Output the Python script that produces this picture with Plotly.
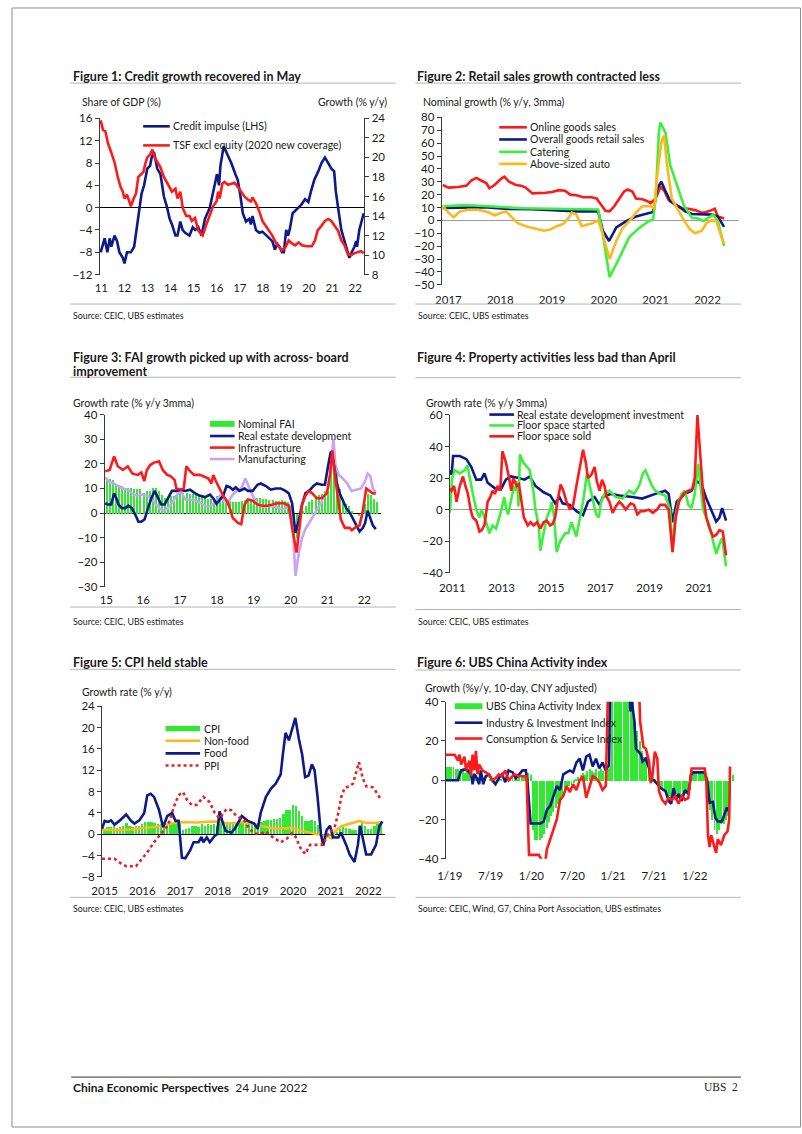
import plotly.graph_objects as go

W, H = 802, 1134
FONT = "Lato"
NAVY = "#0c1a8a"
RED = "#ff1a1a"
GREEN = "#3cf03c"
BARGREEN = "#33e833"
ORANGE = "#ffb81c"
LAV = "#c9a3f5"
GRAYLINE = "#b4b4b4"

# ---------------- Figure 1 data (year, value) ----------------
f1_credit_impulse = [(2010.97,-8),(2011.14,-5.5),(2011.26,-8),(2011.36,-5.5),(2011.43,-7),(2011.57,-5),(2011.68,-6),(2011.78,-8),(2011.93,-9),(2012.00,-10),(2012.11,-8),(2012.28,-8),(2012.42,-7),(2012.52,-4),(2012.64,0),(2012.74,2.5),(2012.85,4),(2012.99,7),(2013.11,7.5),(2013.18,9),(2013.28,10),(2013.42,7),(2013.56,6),(2013.71,2),(2013.85,0),(2013.96,-2),(2014.06,-3),(2014.21,-5),(2014.30,-5),(2014.42,-2.5),(2014.52,-4),(2014.63,-4.5),(2014.82,-5),(2014.96,-3.5),(2015.06,-4),(2015.20,-3.5),(2015.34,-5),(2015.49,-2),(2015.70,0),(2015.84,3),(2016.01,6),(2016.10,4),(2016.16,7.5),(2016.30,11),(2016.41,10),(2016.63,8),(2016.81,6),(2016.91,5),(2017.03,2),(2017.13,-1),(2017.27,-2.5),(2017.41,-2),(2017.48,-3),(2017.55,-1.5),(2017.70,-4),(2017.84,-4.5),(2017.98,-4.3),(2018.15,-5),(2018.26,-5.5),(2018.41,-6),(2018.52,-7.5),(2018.62,-6.5),(2018.72,-7),(2018.83,-8),(2018.91,-8),(2019.01,-4),(2019.09,-5),(2019.16,-4),(2019.29,-1),(2019.40,-0.5),(2019.55,0),(2019.66,0.5),(2019.83,1.5),(2019.97,1),(2020.09,3),(2020.23,5),(2020.40,6.5),(2020.54,8),(2020.69,9),(2020.83,8),(2020.97,7),(2021.09,6.5),(2021.16,3),(2021.26,0),(2021.40,-4),(2021.54,-6),(2021.66,-8),(2021.75,-9),(2021.85,-8),(2021.97,-7),(2022.04,-6),(2022.08,-7),(2022.18,-4),(2022.25,-3),(2022.37,-1)]
f1_tsf = [(2010.97,23.8),(2011.07,22.8),(2011.17,22.7),(2011.28,21.5),(2011.43,20.5),(2011.57,19.5),(2011.71,18),(2011.83,17),(2011.93,16.5),(2012.00,15.8),(2012.11,16.2),(2012.21,15.5),(2012.28,15),(2012.40,15.8),(2012.50,16.3),(2012.60,18),(2012.71,18.3),(2012.82,18.5),(2012.92,19.5),(2012.99,20),(2013.11,20.3),(2013.21,20.8),(2013.31,20),(2013.42,19.5),(2013.56,19),(2013.71,18),(2013.82,17.5),(2013.96,17),(2014.06,16.5),(2014.21,16.8),(2014.30,15.8),(2014.42,16.5),(2014.53,14.8),(2014.68,14),(2014.82,14),(2014.92,13.5),(2015.06,13.8),(2015.20,12.5),(2015.39,12),(2015.53,13),(2015.70,14),(2015.84,15),(2015.99,15.5),(2016.06,16.5),(2016.13,15.8),(2016.24,17.3),(2016.34,17.5),(2016.48,17.2),(2016.63,17.3),(2016.77,17.4),(2016.91,17),(2017.05,16.5),(2017.20,16),(2017.34,15.7),(2017.48,15.5),(2017.55,15.9),(2017.70,15.3),(2017.84,14.5),(2017.98,13.5),(2018.12,13),(2018.26,12.5),(2018.41,12),(2018.62,11),(2018.83,10.5),(2018.98,10.8),(2019.12,11.5),(2019.26,11.2),(2019.40,11),(2019.55,11.3),(2019.69,11),(2019.90,10.9),(2020.12,10.9),(2020.26,11.5),(2020.37,12.5),(2020.54,13),(2020.69,13.5),(2020.83,13.7),(2020.97,13.5),(2021.11,13),(2021.26,12.5),(2021.40,11.5),(2021.54,11),(2021.68,10.1),(2021.83,10),(2021.97,10.2),(2022.11,10.3),(2022.25,10.4),(2022.37,10.2)]
f1_years = list(range(2011, 2023))
f1_labels = [str(y)[2:] for y in f1_years]

# ---------------- Figure 2 data ----------------
f2_online = [(2016.89,27.5),(2017.00,25.5),(2017.19,26),(2017.35,27),(2017.44,31),(2017.54,33),(2017.63,31),(2017.73,29),(2017.79,25),(2017.89,27.5),(2018.02,32.5),(2018.08,34),(2018.17,30),(2018.30,27.5),(2018.40,27),(2018.49,25.5),(2018.62,21),(2018.74,21),(2018.87,21.5),(2019.00,22),(2019.13,23.5),(2019.25,23),(2019.35,20),(2019.47,19.5),(2019.60,18),(2019.76,18),(2019.86,17),(2019.95,12),(2020.03,7.5),(2020.11,7),(2020.20,11),(2020.30,17),(2020.39,22.5),(2020.46,24),(2020.55,22.5),(2020.62,17),(2020.74,16.5),(2020.84,15),(2020.90,13.5),(2021.00,17),(2021.09,26),(2021.16,23.5),(2021.25,16),(2021.38,12),(2021.51,9.5),(2021.63,9),(2021.76,8),(2021.89,6),(2021.98,6.5),(2022.08,8),(2022.14,9),(2022.20,3),(2022.32,1.5)]
f2_overall = [(2016.89,9.6),(2017.30,10),(2017.70,10.2),(2018.08,9),(2018.60,8.8),(2019.03,8),(2019.47,7),(2019.86,7),(2019.89,7),(2019.98,-8),(2020.10,-16),(2020.24,-5.5),(2020.43,-0.5),(2020.62,3),(2020.81,5),(2020.95,6.5),(2021.03,25),(2021.11,30),(2021.19,22.5),(2021.28,15),(2021.44,11),(2021.57,7),(2021.70,5),(2021.89,4.5),(2022.08,4.5),(2022.20,3),(2022.32,-5)]
f2_catering = [(2016.89,11),(2017.32,12),(2017.76,11),(2018.40,9.5),(2019.03,9),(2019.86,9),(2019.89,8.5),(2019.98,-11),(2020.11,-44),(2020.30,-29),(2020.49,-13),(2020.68,-6),(2020.87,-0.5),(2020.95,0.5),(2021.00,17),(2021.06,68),(2021.09,76),(2021.19,68),(2021.28,43),(2021.41,27.5),(2021.54,12),(2021.70,2),(2021.82,1.5),(2021.92,-0.5),(2022.04,3),(2022.11,4.5),(2022.20,-0.5),(2022.32,-20)]
f2_auto = [(2016.89,11),(2017.00,6),(2017.10,2.5),(2017.22,7),(2017.38,8.3),(2017.57,8.3),(2017.76,6.5),(2017.89,4),(2018.02,6),(2018.11,7),(2018.21,3),(2018.33,-2),(2018.49,-4.5),(2018.65,-6),(2018.84,-8),(2018.97,-7),(2019.09,-4.5),(2019.22,-2.5),(2019.32,2),(2019.38,6),(2019.47,4.5),(2019.57,-4.5),(2019.66,-3.5),(2019.79,-2),(2019.89,0),(2019.98,-11),(2020.11,-30),(2020.24,-16),(2020.36,-6),(2020.49,-0.5),(2020.62,6),(2020.74,11),(2020.90,11),(2020.97,9.5),(2021.03,35),(2021.11,61),(2021.16,66),(2021.22,43),(2021.31,17),(2021.41,9.5),(2021.54,0.5),(2021.66,-7),(2021.76,-10),(2021.89,-8),(2021.98,-2),(2022.08,0),(2022.17,-0.5),(2022.27,-13),(2022.32,-18)]
f2_years = list(range(2017, 2023))

# ---------------- Figure 3 data ----------------
f3_fai_monthly = [14,14,13.5,12,11.5,11,10.5,10.5,10.5,10,10,10,
                  8.5,9,9,10.5,10.5,9,7.5,6.5,6.5,7,7,8,
                  8.5,8.5,8.5,8,8,7.5,7,7,6.5,6,6,6.5,
                  7,7,6.5,5,5,4.5,4.5,4.5,5,5.5,6,6,
                  6,6.5,6.5,6,6,5.5,5.5,5,5,5.5,5,4.5,
                  3,-12,-10,-3,1,3,4.5,5.5,7,7.5,8,9,
                  10,22,25,18,10,6,4,3,1,0,-1,-2,
                  4,8,7.5,6,4.5]
f3_fai_start_year = 2015
f3_real_estate = [(2014.97,4),(2015.04,3.5),(2015.13,3.5),(2015.21,8),(2015.27,6),(2015.33,3.5),(2015.42,2),(2015.51,2),(2015.60,3),(2015.69,2),(2015.78,-0.5),(2015.87,-3.5),(2015.95,-3.5),(2016.04,-2.5),(2016.13,2),(2016.22,6),(2016.31,9),(2016.40,6),(2016.49,3.5),(2016.58,3.5),(2016.67,6),(2016.78,9),(2016.90,9),(2017.02,9.5),(2017.14,9),(2017.27,9.5),(2017.41,8),(2017.54,7),(2017.68,6.5),(2017.81,7.5),(2017.90,6),(2017.99,3.7),(2018.08,5.5),(2018.17,7),(2018.26,11),(2018.35,10.5),(2018.43,9.5),(2018.51,10.5),(2018.61,9),(2018.75,10),(2018.84,9),(2018.97,9),(2019.10,11.5),(2019.19,12),(2019.33,11),(2019.46,9.5),(2019.59,10),(2019.73,10),(2019.86,9),(2019.95,8),(2020.04,4),(2020.13,-8),(2020.22,-3),(2020.31,3.5),(2020.40,8),(2020.53,9.5),(2020.62,11),(2020.71,12),(2020.84,11.5),(2020.93,11.5),(2021.02,19.5),(2021.09,25),(2021.16,21),(2021.24,13),(2021.33,8),(2021.42,5),(2021.51,2),(2021.63,-0.5),(2021.74,-3.5),(2021.87,-7.5),(2021.96,-6),(2022.02,-4),(2022.09,1),(2022.16,-2),(2022.23,-5),(2022.31,-6.5)]
f3_infrastructure = [(2014.97,17),(2015.09,17.5),(2015.21,23),(2015.31,19),(2015.45,17.5),(2015.58,19),(2015.71,16),(2015.85,15.5),(2015.95,16.5),(2016.03,13),(2016.10,17.5),(2016.19,19.5),(2016.29,20.5),(2016.43,21),(2016.53,17.5),(2016.65,15.5),(2016.74,15),(2016.85,13.5),(2016.90,10),(2017.02,9.5),(2017.10,10),(2017.17,19),(2017.27,17),(2017.38,15.5),(2017.54,15.5),(2017.68,14.5),(2017.77,14),(2017.85,12),(2017.90,15.5),(2017.97,13),(2018.06,10),(2018.17,7),(2018.27,5),(2018.35,2),(2018.43,-2),(2018.57,-4),(2018.66,-4.5),(2018.75,3.5),(2018.84,5.5),(2018.97,5),(2019.10,3.5),(2019.24,3),(2019.37,3),(2019.50,3.5),(2019.64,4),(2019.82,4),(2019.95,3),(2020.04,-6),(2020.16,-16),(2020.24,-6),(2020.31,3.5),(2020.40,7),(2020.49,9),(2020.59,8),(2020.71,6),(2020.84,6),(2020.98,8),(2021.07,15.5),(2021.13,25.5),(2021.20,15.5),(2021.29,5),(2021.36,-2.5),(2021.47,-6),(2021.60,-6),(2021.66,-7),(2021.78,-5.5),(2021.87,-5),(2021.96,1),(2022.05,10),(2022.14,9),(2022.23,8),(2022.31,8)]
f3_manufacturing = [(2014.97,14.5),(2015.09,12.5),(2015.21,12),(2015.31,11),(2015.45,10),(2015.58,9.5),(2015.71,8),(2015.85,7),(2015.98,7.5),(2016.12,7),(2016.22,6),(2016.34,3.5),(2016.47,1.5),(2016.56,1),(2016.67,2),(2016.78,4),(2016.92,7.5),(2017.02,9),(2017.14,5.5),(2017.27,5.5),(2017.45,5),(2017.63,3.5),(2017.72,2.5),(2017.85,3),(2017.99,5),(2018.08,7),(2018.17,5),(2018.30,4.5),(2018.43,7.5),(2018.57,9.5),(2018.66,10),(2018.77,14),(2018.88,10),(2018.97,7),(2019.06,5),(2019.15,3),(2019.28,2.5),(2019.42,3),(2019.59,2.5),(2019.77,1.5),(2019.88,2),(2019.95,3.5),(2020.06,-6),(2020.13,-25.5),(2020.22,-16.5),(2020.31,-10),(2020.40,-6.5),(2020.53,-3),(2020.66,0),(2020.80,3.5),(2020.93,7),(2021.02,10),(2021.09,18),(2021.16,30),(2021.22,19),(2021.31,15.5),(2021.42,14),(2021.54,12),(2021.65,9),(2021.78,9.5),(2021.91,10),(2022.02,13),(2022.09,16),(2022.16,15),(2022.23,10),(2022.31,8.5)]
f3_years = list(range(2015, 2023))
f3_labels = [str(y)[2:] for y in f3_years]

# ---------------- Figure 4 data ----------------
f4_investment = [(2011.00,25),(2011.07,22),(2011.13,34),(2011.40,34),(2011.67,32),(2011.87,27),(2012.07,19),(2012.27,19),(2012.40,23),(2012.53,17),(2012.87,13),(2013.07,13),(2013.27,19),(2013.47,21),(2013.80,20),(2014.03,19),(2014.24,21),(2014.47,15),(2014.80,11),(2015.07,9),(2015.27,4),(2015.44,8),(2015.57,4),(2015.87,3),(2016.13,-1),(2016.40,-3.5),(2016.60,5),(2016.87,8),(2017.07,3),(2017.20,8),(2017.53,10),(2017.87,9),(2018.40,8),(2018.80,7),(2019.33,10),(2019.73,12),(2019.87,10),(2020.03,-8),(2020.20,5),(2020.53,10),(2020.80,12),(2021.00,18),(2021.13,17),(2021.27,13),(2021.40,7),(2021.60,0),(2021.80,-7.5),(2021.93,-5),(2022.04,1),(2022.20,-7)]
f4_started = [(2011.00,-2),(2011.09,20),(2011.20,25),(2011.40,23),(2011.60,25),(2011.71,28),(2011.93,10),(2012.07,0),(2012.20,-5),(2012.29,0),(2012.47,-8),(2012.60,-15),(2012.73,-10),(2012.87,-12),(2013.00,-5),(2013.09,0),(2013.20,8),(2013.29,0),(2013.36,-3),(2013.47,5),(2013.60,15),(2013.68,12),(2013.73,18),(2013.78,2),(2013.84,35),(2013.97,30),(2014.24,25),(2014.40,10),(2014.47,0),(2014.60,-10),(2014.67,-26),(2014.80,-15),(2014.93,-5),(2015.07,0),(2015.13,5),(2015.23,-5),(2015.33,-27),(2015.47,-20),(2015.67,-15),(2015.80,-15),(2015.93,-8),(2016.13,-17),(2016.27,-5),(2016.40,5),(2016.56,23),(2016.67,15),(2016.80,5),(2016.93,-3),(2017.04,-5),(2017.13,5),(2017.27,10),(2017.47,12),(2017.73,8),(2018.00,7),(2018.27,12),(2018.47,10),(2018.67,15),(2018.83,23),(2018.93,25),(2019.07,20),(2019.20,15),(2019.33,12),(2019.53,10),(2019.73,9),(2019.93,0),(2020.03,-27),(2020.13,-5),(2020.27,5),(2020.40,10),(2020.53,12),(2020.67,3),(2020.80,1),(2020.93,10),(2021.07,29),(2021.17,15),(2021.27,0),(2021.40,-5),(2021.53,-10),(2021.67,-20),(2021.80,-28),(2021.93,-22),(2022.04,-18),(2022.20,-36)]
f4_sold = [(2011.00,13.5),(2011.07,12),(2011.17,15),(2011.27,5),(2011.40,15),(2011.53,21),(2011.63,15),(2011.73,10),(2011.84,0),(2011.93,-5),(2012.07,-7),(2012.20,-14),(2012.29,-13),(2012.40,-10),(2012.53,5),(2012.64,8),(2012.73,12),(2012.83,10),(2012.93,15),(2013.04,12),(2013.13,37),(2013.27,30),(2013.40,20),(2013.49,12),(2013.57,20),(2013.71,15),(2013.80,16),(2013.89,5),(2014.00,-5),(2014.16,-10),(2014.27,-8),(2014.40,-10),(2014.53,-8),(2014.67,-12),(2014.80,-8),(2014.93,-7),(2015.07,-10),(2015.17,-9),(2015.27,-5),(2015.36,5),(2015.49,16),(2015.60,12),(2015.73,5),(2015.87,0),(2016.00,3),(2016.13,15),(2016.27,28),(2016.40,38),(2016.51,30),(2016.60,20),(2016.73,22),(2016.87,27),(2016.96,18),(2017.07,12),(2017.17,19),(2017.27,15),(2017.36,8),(2017.47,5),(2017.60,-2),(2017.73,2),(2017.87,5),(2018.00,3),(2018.13,0),(2018.33,4),(2018.47,3),(2018.60,-3),(2018.73,-1),(2018.87,-1),(2019.07,0),(2019.23,-2),(2019.40,0),(2019.53,3),(2019.73,3),(2019.87,0),(2020.03,-27),(2020.16,-5),(2020.29,5),(2020.47,10),(2020.67,12),(2020.83,13),(2020.93,20),(2021.04,60),(2021.13,40),(2021.27,10),(2021.40,-5),(2021.53,-12),(2021.67,-17),(2021.80,-16),(2021.93,-13),(2022.07,-14),(2022.20,-29)]
f4_years = [2011, 2013, 2015, 2017, 2019, 2021]

# ---------------- Figure 5 data ----------------
f5_cpi_monthly = [0.8,1.4,1.4,1.5,1.2,1.4,1.6,2.0,1.6,1.3,1.5,1.6,
                  1.8,2.3,2.3,2.3,2.0,1.9,1.8,1.3,1.9,2.1,2.3,2.1,
                  2.5,0.8,0.9,1.2,1.5,1.5,1.4,1.8,1.6,1.9,1.7,1.8,
                  1.5,2.9,2.1,1.8,1.8,1.9,2.1,2.3,2.5,2.5,2.2,1.9,
                  1.7,1.5,2.3,2.5,2.7,2.7,2.8,2.8,3.0,3.8,4.5,4.5,
                  5.4,5.2,4.3,3.3,2.4,2.5,2.7,2.4,1.7,0.5,-0.5,0.2,
                  -0.3,-0.2,0.4,0.9,1.3,1.1,1.0,0.8,0.7,1.5,2.3,1.5,
                  0.9,0.9,1.5,2.1,2.1]
f5_cpi_start_year = 2015
f5_nonfood = [(2014.93,0.8),(2015.26,0.9),(2015.70,0.9),(2016.13,1.2),(2016.57,1.6),(2016.75,2),(2017.01,2.3),(2017.44,2.2),(2017.88,2.4),(2018.14,2.2),(2018.32,2),(2018.66,2.3),(2018.93,2.0),(2019.19,1.5),(2019.54,1),(2019.97,1.2),(2020.24,0.6),(2020.58,0.1),(2020.85,-0.3),(2020.93,-0.5),(2021.02,-0.8),(2021.11,0.5),(2021.28,1.5),(2021.54,2),(2021.76,2.5),(2021.89,2.2),(2022.16,2.1),(2022.37,2.3)]
f5_food = [(2014.93,1),(2015.00,2.5),(2015.09,2.3),(2015.17,2.6),(2015.26,1.8),(2015.39,2.5),(2015.57,3.7),(2015.70,2.5),(2015.79,2),(2015.92,2.6),(2016.05,4),(2016.13,7.3),(2016.22,7.6),(2016.31,7),(2016.44,4.6),(2016.55,1.3),(2016.66,3.4),(2016.79,4),(2016.88,2.5),(2016.96,2.5),(2017.05,-4.4),(2017.14,-4.5),(2017.27,-3),(2017.36,-1.5),(2017.49,-1.5),(2017.57,-0.5),(2017.62,-1.5),(2017.71,-0.6),(2017.79,-1.5),(2017.92,-0.3),(2017.98,0),(2018.05,4.3),(2018.12,2.5),(2018.21,0.6),(2018.36,0.3),(2018.45,1),(2018.53,2),(2018.64,3.4),(2018.80,2.5),(2018.97,2),(2019.06,1),(2019.14,4),(2019.28,7),(2019.41,8.5),(2019.54,9.5),(2019.67,11.2),(2019.73,15),(2019.80,19),(2019.89,17.6),(2019.97,19.8),(2020.06,21.8),(2020.15,18),(2020.24,15),(2020.32,10.7),(2020.41,11),(2020.50,13.1),(2020.57,12),(2020.65,7),(2020.74,0),(2020.80,-2.1),(2020.89,0.8),(2020.98,1.6),(2021.06,-0.6),(2021.20,-0.6),(2021.27,0.3),(2021.41,-2),(2021.50,-3.8),(2021.63,-5.2),(2021.72,-2),(2021.78,1.6),(2021.85,-0.5),(2021.94,-3.8),(2022.07,-3.8),(2022.20,-2),(2022.29,1.5),(2022.37,2.4)]
f5_ppi = [(2014.93,-4.6),(2015.26,-4.6),(2015.44,-5.5),(2015.57,-6),(2015.83,-6),(2015.96,-4.9),(2016.13,-3.4),(2016.31,-1.5),(2016.48,0),(2016.66,1.5),(2016.75,3),(2016.83,5),(2016.96,7.3),(2017.08,7.9),(2017.18,6.5),(2017.31,5.5),(2017.44,5.5),(2017.62,7),(2017.79,6),(2017.92,4),(2018.05,3),(2018.23,4.7),(2018.36,4.5),(2018.49,3.5),(2018.71,2.5),(2018.84,1),(2018.97,0.2),(2019.10,0),(2019.28,0.5),(2019.45,-0.5),(2019.67,-1.5),(2019.84,-0.8),(2019.97,0.2),(2020.06,-0.4),(2020.19,-2.5),(2020.32,-3.7),(2020.45,-2),(2020.67,-2),(2020.80,-2),(2020.89,-0.4),(2020.98,0.3),(2021.11,1.5),(2021.20,4),(2021.28,7),(2021.37,8.7),(2021.50,9),(2021.59,9.5),(2021.68,11.5),(2021.75,13.5),(2021.85,10.5),(2021.94,9),(2022.11,8.8),(2022.20,8),(2022.33,6.5)]
f5_years = list(range(2015, 2023))

# ---------------- Figure 6 data ----------------
f6_index_dekads = [6,7,7,                       # Dec-18
                   7,7,6, 6,5,5, 4,5,4, 3,4,3, 2,1,2, 1,0,1,
                   0,-1,0, 1,1,0, 1,2,1, 2,3,1, 2,3,3, 4,4,3,     # 2019
                   -25,-30,-30, -30,-29,-27, -24,-21,-18, -16,-14,-12, -10,-8,-6, -5,-3,-2,
                   -1,1,2, 3,4,3, 5,6,5, 4,6,5, 6,5,7, 6,8,60,     # 2020
                   70,70,70, 70,70,70, 70,60,45, 30,25,20, 15,12,10, 8,5,2,
                   1,-3,-4, -5,-6,-8, -8,-10,-8, -7,-8,-9, -8,-7,-6, -5,3,4,  # 2021
                   4,5,4, 4,3,-10, -15,-20,-25, -27,-25,-22, -22,-20,-18, -10,3]  # 2022
f6_first_month = (2018, 12)
f6_industry = [(2018.95,0),(2019.06,0),(2019.10,0),(2019.14,5),(2019.18,5.5),(2019.22,5),(2019.26,3),(2019.28,-2),(2019.30,3),(2019.32,2),(2019.36,-2),(2019.38,5),(2019.41,-2),(2019.44,2),(2019.48,3),(2019.52,0),(2019.56,-2),(2019.60,1),(2019.64,3),(2019.68,-1),(2019.72,5),(2019.77,4),(2019.81,1),(2019.85,3),(2019.89,5),(2019.93,5),(2019.95,0),(2019.99,-22),(2020.11,-22),(2020.15,-21),(2020.19,-15),(2020.23,-13),(2020.27,-8),(2020.31,-3),(2020.35,-5),(2020.39,3),(2020.43,4),(2020.47,5),(2020.51,4),(2020.55,9),(2020.59,11),(2020.63,5),(2020.67,12),(2020.71,13),(2020.75,7),(2020.79,11),(2020.83,6),(2020.87,9),(2020.91,5),(2020.95,8),(2020.97,70),(2021.19,70),(2021.21,35),(2021.23,40),(2021.26,30),(2021.28,16),(2021.30,15),(2021.34,13),(2021.36,9.5),(2021.40,11),(2021.44,6),(2021.46,0),(2021.50,0),(2021.54,-2),(2021.58,-4),(2021.64,-5.5),(2021.68,-10.5),(2021.71,-12),(2021.74,-4),(2021.77,-10),(2021.80,-7),(2021.84,-10.5),(2021.88,-5),(2021.92,-7),(2021.95,2.5),(2021.98,4),(2022.08,4),(2022.12,4),(2022.15,0),(2022.18,-11.5),(2022.22,-11),(2022.25,-19),(2022.28,-21),(2022.33,-21),(2022.37,-16.5),(2022.39,-14),(2022.42,-16)]
f6_consumption = [(2018.95,13),(2019.06,13),(2019.10,10),(2019.12,13),(2019.14,8),(2019.18,12),(2019.20,5),(2019.24,10),(2019.26,2),(2019.28,13),(2019.30,5),(2019.32,15),(2019.34,3),(2019.36,8),(2019.40,5),(2019.44,4),(2019.48,3),(2019.52,0),(2019.56,1),(2019.60,3),(2019.64,2),(2019.68,5),(2019.72,0),(2019.79,3),(2019.85,2),(2019.91,2),(2019.94,2),(2019.97,-38),(2020.09,-38),(2020.13,-41),(2020.17,-41),(2020.19,-35),(2020.23,-30),(2020.27,-24),(2020.31,-20),(2020.35,-10),(2020.39,-8),(2020.43,-3),(2020.47,-6),(2020.51,-2),(2020.55,-5),(2020.59,0),(2020.63,2),(2020.67,-9),(2020.71,-3),(2020.75,2),(2020.79,1),(2020.83,-1),(2020.87,-5),(2020.91,-3),(2020.95,70),(2021.30,70),(2021.33,30),(2021.37,17),(2021.40,16),(2021.44,9.5),(2021.46,-1.5),(2021.48,2),(2021.51,14.5),(2021.54,11),(2021.56,-5.5),(2021.60,-10),(2021.64,-12),(2021.68,-9),(2021.72,-10),(2021.76,-8),(2021.80,-12),(2021.84,-8),(2021.88,-10),(2021.92,-9),(2021.96,6),(2022.12,6),(2022.14,0),(2022.16,-28),(2022.18,-34),(2022.20,-28),(2022.24,-34),(2022.26,-37),(2022.28,-30),(2022.32,-33),(2022.36,-28),(2022.40,-26),(2022.42,-20),(2022.43,7)]
f6_tickvals = [2019, 2019.5, 2020, 2020.5, 2021, 2021.5, 2022]
f6_ticktext = ["1/19", "7/19", "1/20", "7/20", "1/21", "7/21", "1/22"]


# ---------------- helpers ----------------
def px(p):
    return p / W

def py(p):
    return 1 - p / H

def xdom(l, r):
    return [l / W, r / W]

def ydom(t, b):
    return [1 - b / H, 1 - t / H]

fig = go.Figure()

def add_line(pts, color, xa, ya, width=2.6, dash=None):
    xs, ys = zip(*pts)
    fig.add_trace(go.Scatter(x=list(xs), y=list(ys), mode="lines",
                             line=dict(color=color, width=width, dash=dash),
                             xaxis=xa, yaxis=ya, showlegend=False, hoverinfo="skip"))

def add_bars(xs, ys, xa, ya, width):
    fig.add_trace(go.Bar(x=xs, y=ys, width=width, marker=dict(color=BARGREEN, line=dict(width=0)),
                         xaxis=xa, yaxis=ya, showlegend=False, hoverinfo="skip"))

# Figure 1
add_line(f1_credit_impulse, NAVY, "x", "y")
add_line(f1_tsf, RED, "x", "y7")

# Figure 2
add_line(f2_online, RED, "x2", "y2")
add_line(f2_overall, NAVY, "x2", "y2")
add_line(f2_catering, GREEN, "x2", "y2")
add_line(f2_auto, ORANGE, "x2", "y2")

# Figure 3
f3_fai_x = [f3_fai_start_year + i / 12 for i in range(len(f3_fai_monthly))]
add_bars(f3_fai_x, f3_fai_monthly, "x3", "y3", 0.055)
add_line(f3_manufacturing, LAV, "x3", "y3")
add_line(f3_real_estate, NAVY, "x3", "y3")
add_line(f3_infrastructure, RED, "x3", "y3")

# Figure 4
add_line(f4_investment, NAVY, "x4", "y4")
add_line(f4_started, GREEN, "x4", "y4")
add_line(f4_sold, RED, "x4", "y4")

# Figure 5
f5_cpi_x = [f5_cpi_start_year + i / 12 for i in range(len(f5_cpi_monthly))]
add_bars(f5_cpi_x, f5_cpi_monthly, "x5", "y5", 0.05)
add_line(f5_nonfood, ORANGE, "x5", "y5")
add_line(f5_food, NAVY, "x5", "y5")
add_line(f5_ppi, "#e8202a", "x5", "y5", width=2.6, dash="dot")

# Figure 6
f6_x = []
y0, m0 = f6_first_month
for k in range(len(f6_index_dekads)):
    mi = (m0 - 1) + k // 3
    f6_x.append(y0 + mi / 12 + ((k % 3) + 0.5) / 36)
add_bars(f6_x, f6_index_dekads, "x6", "y6", 0.012)
add_line(f6_industry, NAVY, "x6", "y6")
add_line(f6_consumption, RED, "x6", "y6")

TICKFONT = dict(family=FONT, size=11.5, color="#1a1a1a")
AXCOL = "#3a3a3a"

def xax(dom, rng, tv, tt, anchor, tl):
    return dict(domain=dom, range=rng, tickvals=tv, ticktext=tt, anchor=anchor,
                showline=False, showgrid=False, zeroline=False, ticks="outside",
                ticklen=tl, tickcolor="rgba(0,0,0,0)", tickfont=TICKFONT, fixedrange=True)

def yax(dom, rng, tv, anchor, zl=None, side="left", overlaying=None):
    d = dict(domain=dom, range=rng, tickvals=tv, anchor=anchor, side=side,
             showline=True, linecolor=AXCOL, linewidth=1, showgrid=False,
             ticks="outside", ticklen=4, tickcolor=AXCOL, tickfont=TICKFONT,
             zeroline=zl is not None, fixedrange=True)
    if zl is not None:
        d["zerolinecolor"] = zl[0]
        d["zerolinewidth"] = zl[1]
    if overlaying:
        d["overlaying"] = overlaying
        d.pop("domain")
    return d

layout = dict(
    width=W, height=H, autosize=False,
    margin=dict(l=0, r=0, t=0, b=0),
    paper_bgcolor="white", plot_bgcolor="rgba(0,0,0,0)",
    font=dict(family=FONT, color="#1a1a1a"),
    barmode="overlay", bargap=0,
    showlegend=False,
    xaxis=xax(xdom(90, 358.3), [2010.93, 2022.40], f1_years, f1_labels, "y", 3),
    yaxis=yax(ydom(112.7, 270.7), [-12, 16], list(range(-12, 17, 4)), "x", zl=("black", 1.3)),
    yaxis7=yax(None, [8, 24], list(range(8, 25, 2)), "x", side="right", overlaying="y"),
    xaxis2=xax(xdom(436.7, 737.7), [2016.87, 2022.6], f2_years, [str(y) for y in f2_years], "y2", 4.5),
    yaxis2=yax(ydom(111.7, 281), [-50, 80], list(range(-50, 81, 10)), "x2", zl=("#9a9a9a", 1)),
    xaxis3=xax(xdom(95, 375.1), [2014.955, 2022.45], f3_years, f3_labels, "y3", 2),
    yaxis3=yax(ydom(412.3, 586.7), [-30, 40], list(range(-30, 41, 10)), "x3", zl=("black", 1.3)),
    xaxis4=xax(xdom(445, 732.5), [2011.0, 2022.5], [y + 0.1 for y in f4_years], [str(y) for y in f4_years], "y4", 4),
    yaxis4=yax(ydom(412.7, 572.3), [-40, 60], list(range(-40, 61, 20)), "x4", zl=("#9a9a9a", 1)),
    xaxis5=xax(xdom(92.3, 379.6), [2014.93, 2022.45], f5_years, [str(y) for y in f5_years], "y5", 3.5),
    yaxis5=yax(ydom(707.3, 880), [-8, 24], list(range(-8, 25, 4)), "x5", zl=("black", 1.3)),
    xaxis6=xax(xdom(440.7, 734.8), [2018.95, 2022.5], f6_tickvals, f6_ticktext, "y6", 6),
    yaxis6=yax(ydom(702.7, 861.7), [-40, 40], list(range(-40, 41, 20)), "x6"),
)
fig.update_layout(**layout)

# ---------------- page furniture: titles, axis titles, legends, sources ----------------
ann = []
shapes = []

def text(x, y, s, size=10, bold=False, anchor="left", family=FONT, color="#1a1a1a"):
    ann.append(dict(x=px(x), y=py(y), xref="paper", yref="paper", text=("<b>%s</b>" % s) if bold else s,
                    showarrow=False, xanchor=anchor, yanchor="middle",
                    font=dict(family=family, size=size, color=color)))

def hline(x0, x1, y, color=GRAYLINE, width=1):
    shapes.append(dict(type="line", xref="paper", yref="paper", x0=px(x0), x1=px(x1), y0=py(y), y1=py(y),
                       line=dict(color=color, width=width)))

def leg_line(x0, x1, y, color, dash=None, width=2.6):
    shapes.append(dict(type="line", xref="paper", yref="paper", x0=px(x0), x1=px(x1), y0=py(y), y1=py(y),
                       line=dict(color=color, width=width, dash=dash)))

def leg_box(x0, x1, y, h):
    shapes.append(dict(type="rect", xref="paper", yref="paper", x0=px(x0), x1=px(x1),
                       y0=py(y + h / 2), y1=py(y - h / 2), fillcolor=BARGREEN, line=dict(width=0)))

# page frame
shapes.append(dict(type="rect", xref="paper", yref="paper", x0=px(1), x1=px(800.5), y0=py(1133), y1=py(1),
                   line=dict(color="#8c8c8c", width=1), fillcolor="rgba(0,0,0,0)"))

TS = 12.5
LS = 10.5
AS = 10.5
SS = 8.8
# Figure 1
text(61, 70.5, "Figure 1: Credit growth recovered in May", TS, True)
hline(60, 390, 77)
text(70, 96, "Share of GDP (%)", AS)
text(383, 96, "Growth (% y/y)", AS, anchor="right")
leg_line(134, 161, 120.7, NAVY); text(162, 120.7, "Credit impulse (LHS)", LS)
leg_line(134, 161, 140, RED); text(162, 140, "TSF excl equity (2020 new coverage)", LS)
hline(60, 390, 300.5)
text(61, 312.5, "Source: CEIC, UBS estimates", SS)

# Figure 2
text(410, 70.5, "Figure 2: Retail sales growth contracted less", TS, True)
hline(410, 740, 77)
text(416, 96.5, "Nominal growth (% y/y, 3mma)", AS)
for yy, c, lab in [(121.7, RED, "Online goods sales"), (134, NAVY, "Overall goods retail sales"),
                   (146.5, GREEN, "Catering"), (158.7, ORANGE, "Above-sized auto")]:
    leg_line(495, 523, yy, c); text(524.5, yy, lab, LS)
hline(410, 740, 300.5)
text(411, 312.5, "Source: CEIC, UBS estimates", SS)

# Figure 3
text(61, 354.5, "Figure 3: FAI growth picked up with across- board", TS, True)
text(61, 368.5, "improvement", TS, True)
hline(60, 390, 374.5)
text(61, 400.7, "Growth rate (% y/y 3mma)", AS)
leg_box(201.7, 226.7, 421.7, 6); text(228.5, 421.7, "Nominal FAI", LS)
for yy, c, lab in [(434, NAVY, "Real estate development"), (445.7, RED, "Infrastructure"),
                   (457.3, LAV, "Manufacturing")]:
    leg_line(201.7, 226.7, yy, c); text(228.5, yy, lab, LS)
hline(60, 390, 607)
text(61, 621.7, "Source: CEIC, UBS estimates", SS)

# Figure 4
text(410, 354.5, "Figure 4: Property activities less bad than April", TS, True)
hline(410, 740, 375)
text(419, 400.7, "Growth rate (% y/y 3mma)", AS)
for yy, c, lab in [(412.3, NAVY, "Real estate development investment"), (423.3, GREEN, "Floor space started"),
                   (434.3, RED, "Floor space sold")]:
    leg_line(485, 510, yy, c); text(511.5, yy, lab, LS)
hline(410, 740, 609.5)
text(411, 621.7, "Source: CEIC, UBS estimates", SS)

# Figure 5
text(61, 663.5, "Figure 5: CPI held stable", TS, True)
hline(60, 390, 670)
text(70, 693.3, "Growth rate (% y/y)", AS)
leg_box(156.7, 191.7, 730, 5.5); text(194, 730, "CPI", LS)
leg_line(156.7, 191.7, 742.3, ORANGE); text(194, 742.3, "Non-food", LS)
leg_line(156.7, 191.7, 755, NAVY); text(194, 755, "Food", LS)
leg_line(156.7, 191.7, 767.3, "#e8202a", dash="dot"); text(194, 767.3, "PPI", LS)
hline(60, 390, 900.7)
text(61, 912, "Source: CEIC, UBS estimates", SS)

# Figure 6
text(410, 663.5, "Figure 6: UBS China Activity index", TS, True)
hline(410, 740, 670.7)
text(418, 689.3, "Growth (%y/y, 10-day, CNY adjusted)", AS)
leg_box(450, 478, 707.3, 6); text(479.5, 707.3, "UBS China Activity Index", LS)
leg_line(450, 478, 724, NAVY); text(479.5, 724, "Industry &amp; Investment Index", LS)
leg_line(450, 478, 740, RED); text(479.5, 740, "Consumption &amp; Service Index", LS)
hline(410, 740, 900.7)
text(411, 912.3, "Source: CEIC, Wind, G7, China Port Association, UBS estimates", SS)

# Footer
hline(61, 740, 1082.5, color="#333333", width=1)
text(61, 1093.5, "<b>China Economic Perspectives</b>  24 June 2022", 12)
text(739, 1092.5, "UBS  2", 11.5, anchor="right", family="Liberation Serif")

fig.update_layout(annotations=ann, shapes=shapes)
fig.write_html("out.html", config={"displayModeBar": False},
               post_script="document.body.style.margin='0px';document.body.style.overflow='hidden';")
